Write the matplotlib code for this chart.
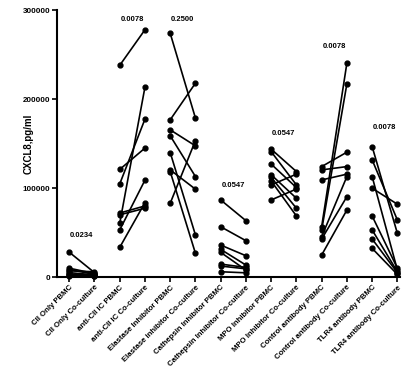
import matplotlib
matplotlib.use("Agg")
import matplotlib.pyplot as plt

plt.rcParams['font.family'] = ['Liberation Sans', 'DejaVu Sans']

# categorias (pares PBMC / Co-culture)
etiquetas = ['CII Only PBMC', 'CII Only Co-culture',
             'anti-CII IC PBMC', 'anti-CII IC Co-culture',
             'Elastase Inhibitor PBMC', 'Elastase inhibitor Co-culture',
             'Cathepsin Inhibitor PBMC', 'Cathepsin Inhibitor Co-culture',
             'MPO Inhibitor PBMC', 'MPO Inhibitor Co-culture',
             'Control antibody PBMC', 'Control antibody Co-culture',
             'TLR4 antibody PBMC', 'TLR4 antibody Co-culture']

# valores CXCL8 (pg/ml), emparejados por donante
cii_pbmc = [28000, 10000, 8500, 7000, 5000, 3500, 2000, 1000]
cii_co = [5000, 4000, 3000, 6000, 2500, 2000, 1000, 1500]

anti_pbmc = [238000, 121000, 104700, 72000, 70000, 60500, 53000, 33400]
anti_co = [278000, 145000, 177600, 80000, 77400, 213600, 109000, 83700]

elast_pbmc = [274000, 176800, 165500, 158800, 140000, 120500, 118600, 83000]
elast_co = [178700, 218000, 147500, 113000, 47300, 98800, 26700, 153500]

cath_pbmc = [86700, 56600, 36000, 31200, 27800, 14600, 12400, 6000]
cath_co = [63400, 40900, 24000, 13500, 7900, 10900, 9300, 4800]

mpo_pbmc = [143800, 141000, 127000, 115000, 112000, 108000, 103600, 86700]
mpo_co = [118600, 103600, 100600, 88600, 77400, 68700, 115700, 99000]

ctrl_pbmc = [124200, 120500, 109200, 56600, 52900, 45400, 42800, 24800]
ctrl_co = [140400, 124200, 115700, 240600, 217300, 113000, 90400, 75400]

tlr4_pbmc = [146700, 131800, 113000, 99900, 68700, 53000, 42800, 32300]
tlr4_co = [49200, 64200, 8000, 81900, 10000, 6000, 5000, 3000]

pares = [(cii_pbmc, cii_co), (anti_pbmc, anti_co), (elast_pbmc, elast_co),
         (cath_pbmc, cath_co), (mpo_pbmc, mpo_co), (ctrl_pbmc, ctrl_co),
         (tlr4_pbmc, tlr4_co)]

p_valores = ['0.0234', '0.0078', '0.2500', '0.0547', '0.0547', '0.0078', '0.0078']
p_altura = [46500, 289000, 289500, 103000, 161000, 259000, 168500]

fig = plt.figure(figsize=(4.17, 3.77), dpi=100)
ax = fig.add_axes([0.137, 0.265, 0.822, 0.708])

for i, (pbmc, co) in enumerate(pares):
    x0, x1 = 2 * i, 2 * i + 1
    for a, b in zip(pbmc, co):
        ax.plot([x0, x1], [a, b], '-', color='black', linewidth=1.2,
                marker='o', markersize=3.5, clip_on=False, zorder=3)
    ax.text(x0 + 0.5, p_altura[i], p_valores[i], ha='center', va='center',
            fontsize=5.5, fontweight='bold')

ax.set_xlim(-0.48, 13.1)
ax.set_ylim(0, 300000)
ax.set_yticks([0, 100000, 200000, 300000])
ax.set_yticklabels(['0', '100000', '200000', '300000'], fontsize=5.8,
                   fontweight='bold')
ax.set_xticks(range(len(etiquetas)))
ax.set_xticklabels(etiquetas, rotation=45, ha='right', rotation_mode='anchor',
                   fontsize=5.6, fontweight='bold')
ax.set_ylabel('CXCL8,pg/ml', fontsize=7, fontweight='bold')
ax.yaxis.set_label_coords(-0.07, 0.5)

for lado in ['top', 'right']:
    ax.spines[lado].set_visible(False)
for lado in ['left', 'bottom']:
    ax.spines[lado].set_linewidth(1.5)
ax.tick_params(direction='out', length=3.5, width=1.2, pad=1.5)

plt.savefig('out.png', dpi=100)
